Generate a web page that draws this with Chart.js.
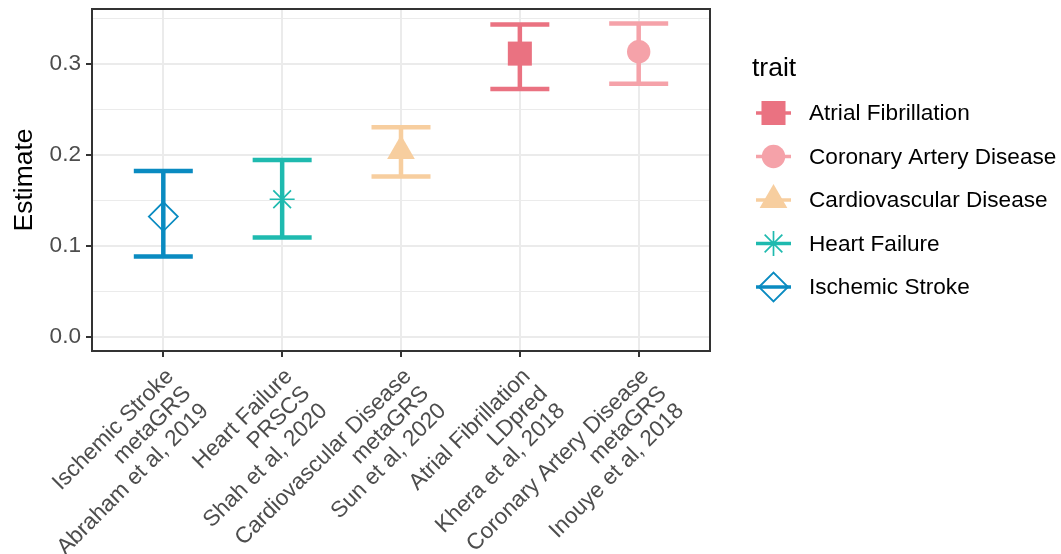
<!DOCTYPE html>
<html>
<head>
<meta charset="utf-8">
<script src="https://cdn.jsdelivr.net/npm/chart.js@4/dist/chart.umd.min.js"></script>
<style>
  html, body { margin: 0; padding: 0; background: #ffffff; }
  canvas { display: block; }
</style>
</head>
<body>
<canvas id="chart" width="1061" height="554"></canvas>
<script>
// ---- data -------------------------------------------------------------
const traits  = ['Ischemic Stroke', 'Heart Failure', 'Cardiovascular Disease', 'Atrial Fibrillation', 'Coronary Artery Disease'];
const methods = ['metaGRS', 'PRSCS', 'metaGRS', 'LDpred', 'metaGRS'];
const studies = ['Abraham et al, 2019', 'Shah et al, 2020', 'Sun et al, 2020', 'Khera et al, 2018', 'Inouye et al, 2018'];
const estimate = [0.132, 0.151, 0.204, 0.311, 0.313];
const lower    = [0.088, 0.109, 0.176, 0.272, 0.278];
const upper    = [0.182, 0.194, 0.230, 0.343, 0.344];
const yTickValues = [0, 0.1, 0.2, 0.3];
const yMinorValues = [0.05, 0.15, 0.25, 0.35];
const legendTraits = ['Atrial Fibrillation', 'Coronary Artery Disease', 'Cardiovascular Disease', 'Heart Failure', 'Ischemic Stroke'];

// ---- styles -----------------------------------------------------------
const FONT = "'Liberation Sans', Arial, Helvetica, sans-serif";
const TEXT_SIZE = 22.6;
const TITLE_SIZE = 26.5;
const traitStyle = {
  'Atrial Fibrillation':     { color: '#EA7281', pointStyle: 'rect',     radius: 17,   fill: true,  border: 0 },
  'Coronary Artery Disease': { color: '#F5A2A9', pointStyle: 'circle',   radius: 11.7, fill: true,  border: 0 },
  'Cardiovascular Disease':  { color: '#F7CE9F', pointStyle: 'triangle', radius: 16,   fill: true,  border: 0 },
  'Heart Failure':           { color: '#1FBAAF', pointStyle: 'star',     radius: 12.5, fill: false, border: 1.7 },
  'Ischemic Stroke':         { color: '#0A8BC1', pointStyle: 'rectRot',  radius: 14.5, fill: false, border: 1.8 }
};
const BAR_WIDTH = 4.5;
const CAP_HALF = 29.5;

// ---- datasets ---------------------------------------------------------
const datasets = [];
traits.forEach((t, i) => {
  const s = traitStyle[t];
  // interval: vertical segment with horizontal caps at both ends
  datasets.push({
    type: 'line',
    label: t + ' interval',
    data: [{ x: i + 1, y: lower[i] }, { x: i + 1, y: upper[i] }],
    borderColor: s.color,
    borderWidth: BAR_WIDTH,
    borderCapStyle: 'butt',
    pointStyle: 'line',
    pointRadius: CAP_HALF,
    pointBorderWidth: BAR_WIDTH,
    pointBorderColor: s.color,
    pointBackgroundColor: s.color,
    order: 2
  });
  // point estimate
  datasets.push({
    type: 'scatter',
    label: t,
    data: [{ x: i + 1, y: estimate[i] }],
    pointStyle: s.pointStyle,
    pointRadius: s.radius,
    pointBackgroundColor: s.fill ? s.color : 'rgba(0,0,0,0)',
    pointBorderColor: s.color,
    pointBorderWidth: s.border,
    order: 1
  });
});

const isMajor = v => Math.abs(v * 10 - Math.round(v * 10)) < 1e-6;

// ---- custom drawing: panel border, rotated x labels, legend -----------
const decorations = {
  id: 'decorations',
  afterDraw(chart) {
    const ctx = chart.ctx;
    const area = chart.chartArea;
    const xs = chart.scales.x;

    // panel border
    ctx.save();
    ctx.strokeStyle = '#333333';
    ctx.lineWidth = 2;
    ctx.strokeRect(area.left, area.top, area.right - area.left, area.bottom - area.top);
    ctx.restore();

    // x labels, rotated 45 degrees, right-aligned to the tick
    ctx.save();
    ctx.fillStyle = '#4D4D4D';
    ctx.font = TEXT_SIZE + 'px ' + FONT;
    ctx.textAlign = 'right';
    ctx.textBaseline = 'alphabetic';
    traits.forEach((t, i) => {
      const px = xs.getPixelForValue(i + 1);
      const lines = [t, methods[i], studies[i]];
      ctx.save();
      ctx.translate(px, area.bottom + 15);
      ctx.rotate(-Math.PI / 4);
      lines.forEach((ln, j) => ctx.fillText(ln, 0, 16 + j * 24.5));
      ctx.restore();
    });
    ctx.restore();

    // legend
    ctx.save();
    ctx.fillStyle = '#000000';
    ctx.font = TITLE_SIZE + 'px ' + FONT;
    ctx.textAlign = 'left';
    ctx.textBaseline = 'alphabetic';
    ctx.fillText('trait', 752, 76);

    const rowY = [113, 156.5, 200, 243.5, 287];
    legendTraits.forEach((t, k) => {
      const s = traitStyle[t];
      const y = rowY[k];
      ctx.strokeStyle = s.color;
      ctx.lineWidth = 3.6;
      ctx.lineCap = 'butt';
      ctx.beginPath();
      ctx.moveTo(756, y);
      ctx.lineTo(791, y);
      ctx.stroke();

      ctx.fillStyle = s.fill ? s.color : 'rgba(0,0,0,0)';
      ctx.strokeStyle = s.color;
      ctx.lineWidth = s.border;
      Chart.helpers.drawPoint(ctx, {
        pointStyle: s.pointStyle,
        radius: s.radius,
        rotation: 0,
        borderWidth: s.border
      }, 773.5, y);

      ctx.fillStyle = '#000000';
      ctx.font = TEXT_SIZE + 'px ' + FONT;
      ctx.textBaseline = 'middle';
      ctx.fillText(t, 809, y + 1);
    });
    ctx.restore();
  }
};

new Chart(document.getElementById('chart'), {
  data: { datasets },
  options: {
    responsive: false,
    animation: false,
    events: [],
    layout: { autoPadding: false, padding: { top: 9, right: 351, bottom: 0, left: 0 } },
    plugins: { legend: { display: false }, tooltip: { enabled: false } },
    scales: {
      x: {
        type: 'linear',
        min: 0.4,
        max: 5.6,
        afterBuildTicks(scale) {
          scale.ticks = traits.map((t, i) => ({ value: i + 1 }));
        },
        afterFit(scale) {
          scale.height = 554 - 351;
          scale.paddingLeft = 0;
          scale.paddingRight = 0;
        },
        ticks: { display: false },
        border: { display: false },
        grid: {
          color: '#EBEBEB',
          lineWidth: 2,
          drawTicks: true,
          tickLength: 6,
          tickColor: '#333333',
          tickWidth: 2
        }
      },
      y: {
        type: 'linear',
        min: -0.0157,
        max: 0.360,
        afterBuildTicks(scale) {
          scale.ticks = yTickValues.concat(yMinorValues)
            .sort((a, b) => a - b)
            .map(v => ({ value: v }));
        },
        afterFit(scale) {
          scale.width = 92;
          scale.paddingTop = 0;
          scale.paddingBottom = 0;
        },
        border: { display: false },
        grid: {
          color: '#EBEBEB',
          lineWidth: c => (c.tick && isMajor(c.tick.value)) ? 2 : 1,
          drawTicks: true,
          tickLength: 6,
          tickWidth: 2,
          tickColor: c => (c.tick && isMajor(c.tick.value)) ? '#333333' : 'rgba(0,0,0,0)'
        },
        ticks: {
          padding: 5,
          color: '#4D4D4D',
          font: { family: FONT, size: TEXT_SIZE },
          callback: v => isMajor(v) ? v.toFixed(1) : ''
        },
        title: {
          display: true,
          text: 'Estimate',
          color: '#000000',
          font: { family: FONT, size: TITLE_SIZE },
          padding: { top: 9, bottom: 0 }
        }
      }
    }
  },
  plugins: [decorations]
});
</script>
</body>
</html>
